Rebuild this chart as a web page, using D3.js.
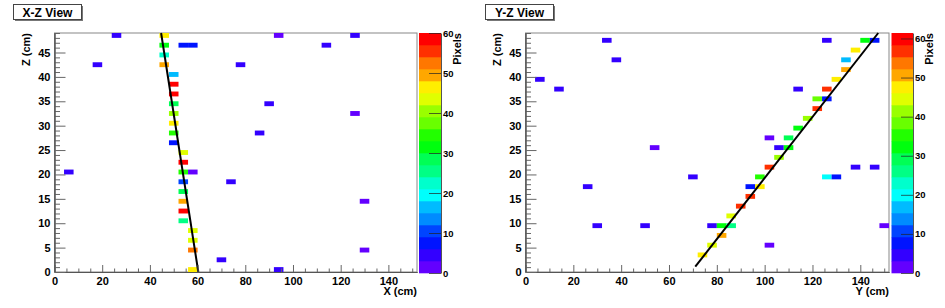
<!DOCTYPE html>
<html>
<head>
<meta charset="utf-8">
<script src="https://cdn.jsdelivr.net/npm/d3@7"></script>
<style>
  body { margin: 0; background: #fff; }
  text { font-family: "Liberation Sans", Arial, Helvetica, sans-serif; font-weight: bold; }
</style>
</head>
<body>
<div id="chart"></div>
<script>
// X-Z view hits : x bin centre (cm), z plane (cm), pixel count
const xzX = [26, 46, 94, 126, 46, 54, 58, 114, 46, 18, 46, 78, 50, 50, 50, 50, 90, 50, 126, 50,
             50, 86, 50, 54, 54, 6, 54, 58, 54, 74, 54, 54, 130, 54, 54, 58, 58, 58, 130, 70, 58, 94];
const xzZ = [48, 48, 48, 48, 46, 46, 46, 46, 44, 42, 42, 42, 40, 38, 36, 34, 34, 32, 32, 30,
             28, 28, 26, 24, 22, 20, 20, 20, 18, 18, 16, 14, 14, 12, 10, 8, 6, 4, 4, 2, 0, 0];
const xzV = [5, 46, 2, 4, 32, 6, 8, 4, 22, 4, 49, 3, 16, 58, 58, 29, 4, 40, 2, 46,
             35, 4, 8, 43, 57, 4, 34, 2, 10, 4, 29, 49, 2, 57, 26, 44, 44, 52, 2, 3, 47, 3];

// Y-Z view hits : y bin centre (cm), z plane (cm), pixel count
const yzY = [34, 126, 142, 146, 138, 38, 134, 134, 6, 130, 14, 114, 126, 122, 126, 122, 118, 114,
             102, 110, 54, 106, 110, 106, 102, 138, 146, 70, 98, 126, 130, 26, 94, 98, 94, 90, 86,
             30, 50, 78, 82, 86, 150, 82, 78, 102, 74];
const yzZ = [47, 47, 47, 47, 45, 43, 43, 41, 39, 39, 37, 37, 37, 35, 35, 33, 31, 29,
             27, 27, 25, 25, 25, 23, 21, 21, 21, 19, 19, 19, 19, 17, 17, 17, 15, 13, 11,
             9, 9, 9, 9, 9, 9, 7, 5, 5, 3];
const yzV = [5, 5, 32, 8, 47, 5, 16, 50, 4, 47, 4, 4, 57, 37, 9, 57, 40, 31,
             3, 28, 3, 5, 32, 41, 57, 4, 4, 4, 34, 19, 7, 4, 9, 49, 56, 57, 46,
             5, 4, 4, 32, 27, 3, 50, 43, 3, 49];

// straight-line track fits (end points)
const xzFitX = [60.3, 44.7], xzFitZ = [0, 49];
const yzFitY = [71, 147.5], yzFitZ = [1.1, 49];

// colour scale maxima
const xzCountMax = 60, yzCountMax = 61.4;

// axis ticks
const hMajor = [0, 20, 40, 60, 80, 100, 120, 140];
const zMajor = [0, 5, 10, 15, 20, 25, 30, 35, 40, 45];
const countTicks = [0, 10, 20, 30, 40, 50, 60];

const W = 945, H = 308;
const hDomain = [0, 152], zDomain = [0, 49];
const binW = 4, binH = 1, nBands = 20;
const frameTop = 33, frameBottom = 272;

// ROOT "pretty palette" (violet -> red), 50 colours, 20 contours
function paletteColor(i) {
  const hue = i >= 49 ? 0 : 280 - (i + 1) * 5.6;
  return d3.hsl(hue, 1, 0.5).formatHex();
}
const bandColors = d3.range(nBands).map(k => paletteColor(Math.floor((k + 0.99) * 50 / nBands)));

const svg = d3.select("#chart").append("svg")
  .attr("width", W).attr("height", H)
  .style("background", "#fff");

const panels = [
  {title: "X-Z View", hs: xzX, zs: xzZ, vs: xzV, fitH: xzFitX, fitZ: xzFitZ, hTitle: "X (cm)",
   cmax: xzCountMax, left: 54.5, right: 417, bar: [419, 441], pix: 461, box: 13.5},
  {title: "Y-Z View", hs: yzY, zs: yzZ, vs: yzV, fitH: yzFitY, fitZ: yzFitZ, hTitle: "Y (cm)",
   cmax: yzCountMax, left: 525.5, right: 889, bar: [891.5, 913], pix: 933, box: 485.5}
];

function styleAxis(g, size) {
  g.attr("font-family", null).attr("font-size", null);
  g.select(".domain").attr("stroke", "#555");
  g.selectAll(".tick line").attr("stroke", "#666");
  g.selectAll(".tick text").attr("fill", "#000").style("font-size", size + "px");
}

panels.forEach(p => {
  const g = svg.append("g");
  const x = d3.scaleLinear().domain(hDomain).range([p.left, p.right]);
  const z = d3.scaleLinear().domain(zDomain).range([frameBottom, frameTop]);
  const color = d3.scaleQuantize().domain([0, p.cmax]).range(bandColors);

  // title box
  g.append("rect").attr("x", p.box + 1.5).attr("y", 6).attr("width", 68).attr("height", 15)
    .attr("fill", "#777");
  g.append("rect").attr("x", p.box).attr("y", 4.5).attr("width", 68).attr("height", 15)
    .attr("fill", "#fff").attr("stroke", "#444");
  g.append("text").attr("x", p.box + 34).attr("y", 16.5).attr("text-anchor", "middle")
    .style("font-size", "12px").text(p.title);

  // frame
  g.append("rect").attr("x", p.left).attr("y", frameTop)
    .attr("width", p.right - p.left).attr("height", frameBottom - frameTop)
    .attr("fill", "#fff").attr("stroke", "#888");

  // cells
  const cells = p.hs.map((h, i) => ({h: h, z: p.zs[i], v: p.vs[i]}));
  g.append("g").selectAll("rect").data(cells).join("rect")
    .attr("x", d => x(d.h - binW / 2))
    .attr("width", d => x(d.h + binW / 2) - x(d.h - binW / 2))
    .attr("y", d => z(d.z + binH))
    .attr("height", d => z(d.z) - z(d.z + binH))
    .attr("fill", d => color(d.v));

  // fit line
  const line = d3.line().x(d => x(d[0])).y(d => z(d[1]));
  g.append("path").datum(p.fitH.map((h, i) => [h, p.fitZ[i]]))
    .attr("d", line).attr("fill", "none").attr("stroke", "#000").attr("stroke-width", 2);

  // axes
  const hMinor = d3.range(0, 152, 5).filter(v => !hMajor.includes(v));
  const zMinor = d3.range(0, 50, 1).filter(v => !zMajor.includes(v));
  g.append("g").attr("transform", `translate(0,${frameBottom})`)
    .call(d3.axisBottom(x).tickValues(hMinor).tickSizeInner(-3.5).tickSizeOuter(0).tickFormat(""))
    .call(a => styleAxis(a, 11));
  g.append("g").attr("transform", `translate(0,${frameBottom})`)
    .call(d3.axisBottom(x).tickValues(hMajor).tickSizeInner(-7).tickSizeOuter(0).tickPadding(5))
    .call(a => styleAxis(a, 11));
  g.append("g").attr("transform", `translate(${p.left},0)`)
    .call(d3.axisLeft(z).tickValues(zMinor).tickSizeInner(-5.5).tickSizeOuter(0).tickFormat(""))
    .call(a => styleAxis(a, 11));
  g.append("g").attr("transform", `translate(${p.left},0)`)
    .call(d3.axisLeft(z).tickValues(zMajor).tickSizeInner(-11).tickSizeOuter(0).tickPadding(4))
    .call(a => styleAxis(a, 11));

  // axis titles
  g.append("text").attr("x", p.right).attr("y", 295).attr("text-anchor", "end")
    .style("font-size", "11px").text(p.hTitle);
  g.append("text").attr("transform", `translate(${p.left - 25},${frameTop}) rotate(-90)`)
    .attr("text-anchor", "end").style("font-size", "11px").text("Z (cm)");

  // colour bar
  const zc = d3.scaleLinear().domain([0, p.cmax]).range([frameBottom + 1, frameTop]);
  const step = p.cmax / nBands;
  g.append("g").selectAll("rect").data(bandColors).join("rect")
    .attr("x", p.bar[0]).attr("width", p.bar[1] - p.bar[0])
    .attr("y", (c, k) => zc((k + 1) * step))
    .attr("height", (c, k) => zc(k * step) - zc((k + 1) * step) + 0.3)
    .attr("fill", c => c);
  g.append("g").attr("transform", `translate(${p.bar[1]},0)`)
    .call(d3.axisRight(zc).tickValues(countTicks).tickSizeInner(-12).tickSizeOuter(0).tickPadding(2))
    .call(a => styleAxis(a, 9.5))
    .call(a => a.selectAll(".tick line").attr("stroke", "#222").attr("stroke-opacity", 0.7));
  g.append("text").attr("transform", `translate(${p.pix},${frameTop}) rotate(-90)`)
    .attr("text-anchor", "end").style("font-size", "11px").text("Pixels");
});
</script>
</body>
</html>
